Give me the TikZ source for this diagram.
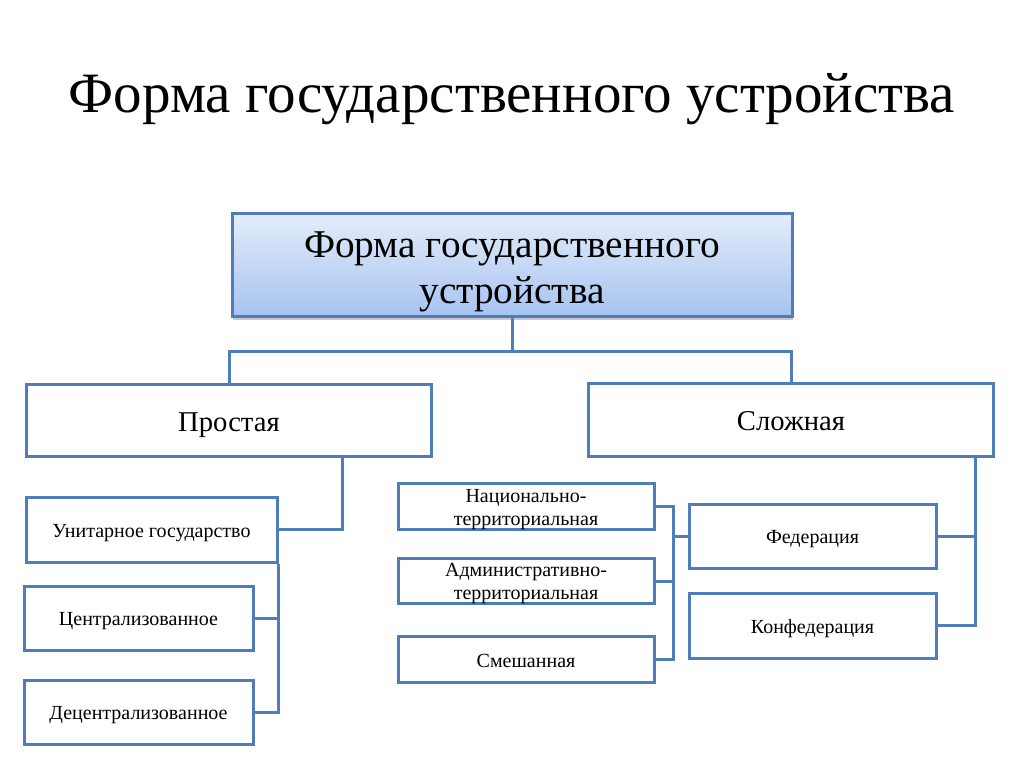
\documentclass[tikz,border=0pt]{standalone}
\usepackage{fontspec}
\setmainfont{Liberation Serif}
\usetikzlibrary{shadows}
\definecolor{boxblue}{RGB}{79,125,186}
\definecolor{shadetop}{RGB}{228,237,251}
\definecolor{shadebot}{RGB}{166,195,240}
\tikzset{
  box/.style={
    draw=boxblue,
    line width=2.25pt,
    fill=white,
    inner sep=0pt,
    align=center
  },
  box-head/.style={
    box,
    top color=shadetop,
    bottom color=shadebot,
    minimum width=420pt,
    minimum height=77.25pt,
    font=\fontsize{29.5}{34.5}\selectfont,
    text height=59pt, text depth=0pt,
    drop shadow={shadow xshift=1pt, shadow yshift=-3pt, opacity=0.35, fill=black!60}
  },
  box-kind/.style={box, minimum width=304pt, minimum height=54.5pt,
    font=\fontsize{21.5}{26}\selectfont, text height=16pt, text depth=0pt},
  box-small/.style={box, font=\fontsize{15}{17.25}\selectfont, text height=11.5pt, text depth=0pt},
  box-two/.style={box-small, text height=27.75pt, text depth=0pt},
  link/.style={draw=boxblue, line width=2.25pt}
}

\begin{document}
\begin{tikzpicture}[x=0.75pt,y=-0.75pt]
  \useasboundingbox (0,0) rectangle (1024,767);
  \fill[white] (0,0) rectangle (1024,767);
  % title
  \node[anchor=base, font=\fontsize{42.8}{50}\selectfont] (title) at (512,113)
    {Форма государственного устройства};
  % head and the two kinds
  \node[box-head] (head) at (512,264.5) {Форма государственного\\устройства};
  \node[box-kind] (simple) at (229,420.5) {Простая};
  \node[box-kind] (complex) at (791,420) {Сложная};
  % simple branch
  \node[box-small, minimum width=188.25pt, minimum height=48.75pt] (unitary) at (151.5,529.5) {Унитарное государство};
  \node[box-small, minimum width=171.75pt, minimum height=48pt] (central) at (138.5,618) {Централизованное};
  \node[box-small, minimum width=171.75pt, minimum height=48pt] (decentral) at (138.5,712) {Децентрализованное};
  % complex branch
  \node[box-two, minimum width=192pt, minimum height=34pt] (national) at (526,506.5) {Национально-\\территориальная};
  \node[box-two, minimum width=192pt, minimum height=34pt] (admin) at (526,581) {Административно-\\территориальная};
  \node[box-small, minimum width=192pt, minimum height=34pt] (mixed) at (526,659.5) {Смешанная};
  \node[box-small, minimum width=185.25pt, minimum height=48pt] (federation) at (812.5,536) {Федерация};
  \node[box-small, minimum width=185.25pt, minimum height=48.75pt] (confed) at (812.5,625.5) {Конфедерация};

  % joints
  \coordinate (bus) at (512,351);
  \coordinate (simple-drop) at (342,456);
  \coordinate (complex-drop) at (975,456);
  \coordinate (terr-bus) at (673,0);

  \draw[link] (head.south) -- (bus);
  \draw[link] (simple.north) |- (bus) -| (complex.north);
  \draw[link] (simple-drop) |- (unitary.east);
  \draw[link] (unitary.south east) |- (decentral.east);
  \draw[link] (central.east) -- (central.east -| unitary.south east);
  \draw[link] (complex-drop) |- (confed.east);
  \draw[link] (federation.east) -- (federation.east -| complex-drop);
  \draw[link] (national.east) -| (terr-bus |- mixed.east) -- (mixed.east);
  \draw[link] (admin.east) -- (admin.east -| terr-bus);
  \draw[link] (federation.west) -- (federation.west -| terr-bus);
\end{tikzpicture}
\end{document}
